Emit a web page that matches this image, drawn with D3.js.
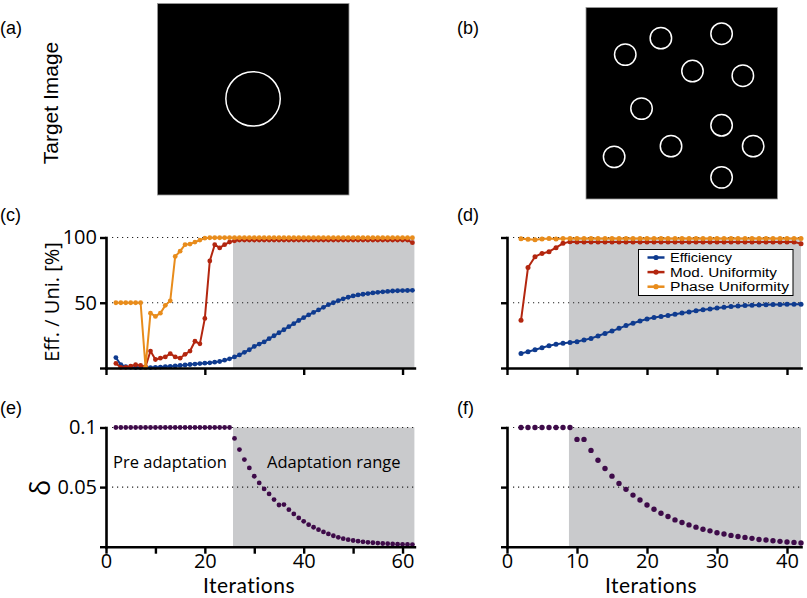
<!DOCTYPE html>
<html><head><meta charset="utf-8">
<script src="https://cdn.jsdelivr.net/npm/d3@7"></script>
<style>
html,body{margin:0;padding:0;background:#fff;}
svg{display:block;}
</style></head>
<body>
<svg id="chart" width="807" height="598"></svg>
<script>
// ---------------- DATA ----------------
const panelLetters = ["(a)", "(b)", "(c)", "(d)", "(e)", "(f)"];
const seriesNames = ["Efficiency", "Mod. Uniformity", "Phase Uniformity"];
// target images: circle centres / radius in image units (0..100)
const targetA = [{cx: 49.9, cy: 49.8, r: 14.2}];
const targetB = [
  {cx: 20.5, cy: 24.6, r: 5.6}, {cx: 39.1, cy: 16.0, r: 5.6}, {cx: 70.8, cy: 13.7, r: 5.6},
  {cx: 55.6, cy: 33.2, r: 5.6}, {cx: 81.9, cy: 35.6, r: 5.6}, {cx: 29.0, cy: 52.8, r: 5.6},
  {cx: 70.8, cy: 61.5, r: 5.6}, {cx: 44.4, cy: 72.4, r: 5.6}, {cx: 87.3, cy: 72.4, r: 5.6},
  {cx: 14.7, cy: 78.0, r: 5.6}, {cx: 70.8, cy: 88.7, r: 5.6}
];
// first iteration plotted
const firstIter = 2;
// panel (c): single circle, iterations 2..62
const effC = [8,2.5,1,0.5,0.3,0.3,0.3,0.3,0.5,0.7,1,1.3,1.6,2,2.3,2.7,3,3.4,3.7,4,4.5,5,6,7,8.5,
  10,12,14,16.5,18.3,20,22.5,24.7,27,29.3,31.7,34,36.4,38.6,40.7,42.6,44.5,46.5,48.5,50,51.6,53,54.2,
  55.2,56,56.5,57,57.5,58,58.4,58.7,59,59.2,59.3,59.4,59.5];
const modC = [3.5,0.5,0.5,1.5,2.5,2,1,13,6.5,7.5,8.5,11,8.5,7.5,10.5,13,20.5,18.5,38,82,94.5,92,94.5,96.5,97.5,
  98,98,98,98,98,98,98,98,98,98,98,98,98,98,98,98,98,98,98,98,98,98,98,98,98,98,98,98,98,98,98,98,98,98,98,96];
const phaseC = [50,50,50,50,50,50,0.5,42,39.5,42,48,51.5,85.5,89.5,94.5,95,96.5,98,99.5,
  99.8,99.8,99.8,99.8,99.8,99.8,99.8,99.8,99.8,99.8,99.8,99.8,99.8,99.8,99.8,99.8,99.8,99.8,99.8,99.8,99.8,
  99.8,99.8,99.8,99.8,99.8,99.8,99.8,99.8,99.8,99.8,99.8,99.8,99.8,99.8,99.8,99.8,99.8,99.8,99.8,99.8,99.8];
// panel (d): eleven circles, iterations 2..42
const effD = [11.2,12.5,14,15.5,17,18.2,19,19.5,20.2,21.5,22.7,24.5,26.5,28.3,30.4,32.5,34.3,36,37.5,38.7,
  39.5,40.3,41.2,42.1,43,43.8,44.6,45.3,46,46.6,47.1,47.5,47.8,48.1,48.3,48.5,48.6,48.7,48.8,48.9,48.9];
const modD = [36.5,77,85.3,87.8,89.1,92.2,95.5,96.8,96.5,96.5,96.5,96.5,96.5,96.5,96.5,96.5,96.5,96.5,96.5,96.5,
  96.5,96.5,96.5,96.5,96.5,96.5,96.5,96.5,96.5,96.5,96.5,96.5,96.5,96.5,96.5,96.5,96.5,96.5,96.5,96.5,95.3];
const phaseD = [99,98.6,98.2,98.8,99.3,98.8,99.2,99.2,99.2,99.2,99.2,99.2,99.2,99.2,99.2,99.2,99.2,99.2,99.2,99.2,
  99.2,99.2,99.2,99.2,99.2,99.2,99.2,99.2,99.2,99.2,99.2,99.2,99.2,99.2,99.2,99.2,99.2,99.2,99.2,99.2,99.2];
// panel (e): delta, iterations 2..62
const deltaE = [0.1,0.1,0.1,0.1,0.1,0.1,0.1,0.1,0.1,0.1,0.1,0.1,0.1,0.1,0.1,0.1,0.1,0.1,0.1,0.1,0.1,0.1,0.1,0.1,
  0.0908,0.0815,0.0731,0.0661,0.0591,0.0535,0.0485,0.0443,0.0395,0.0350,0.0353,0.0311,0.0275,0.0241,0.0213,
  0.0185,0.0163,0.0143,0.0124,0.0107,0.0092,0.0079,0.0067,0.0059,0.0052,0.0046,0.0041,0.0037,0.0033,0.003,
  0.0027,0.0025,0.0023,0.0021,0.002,0.0019,0.0018];
// panel (f): delta, iterations 2..42
const deltaF = [0.1,0.1,0.1,0.1,0.1,0.1,0.1,0.1,0.09,0.09,0.0808,0.0725,0.0656,0.0592,0.0531,0.0481,0.0433,
  0.0392,0.035,0.0314,0.0281,0.0253,0.0225,0.0203,0.0183,0.0164,0.0147,0.0133,0.0117,0.0106,0.0095,0.0086,
  0.0078,0.007,0.0061,0.0056,0.005,0.0045,0.0039,0.0036,0.0031];
// adaptation start (iteration) and axis extents
const adaptStart = {left: 25.7, right: 8.85};
const xMax = {left: 62.4, right: 42};
const xTicksLeftTop = [0, 20, 40, 60];
const xTicksLeftBottom = [0, 10, 20, 30, 40, 50, 60];
const xLabelsLeftBottom = [0, 20, 40, 60];
const xTicksRight = [0, 10, 20, 30, 40];
const yTicksUni = [0, 50, 100];
const yLabelsUni = [50, 100];
const yTicksDelta = [0, 0.05, 0.1];
const yLabelsDelta = [0.05, 0.1];
const texts = {
  targetImage: "Target Image", yUni: "Eff. / Uni. [%]", yDelta: "δ",
  xLabel: "Iterations", pre: "Pre adaptation", adapt: "Adaptation range"
};

// ---------------- STYLE ----------------
const COL = {eff: "#0f3b8f", mod: "#b3260f", phase: "#e88c1c", delta: "#3e0b49", gray: "#c9cacc"};
const FONT = "'Open Sans', sans-serif";
const XFONT = "Lato, 'Open Sans', sans-serif";
const LABFONT = "'Liberation Sans', Arial, sans-serif";

const svg = d3.select("#chart");

// ---------------- TARGET IMAGES ----------------
function targetImage(x0, y0, size, circles) {
  const s = d3.scaleLinear().domain([0, 100]).range([0, size]);
  const g = svg.append("g").attr("transform", `translate(${x0},${y0})`);
  g.append("rect").attr("width", size).attr("height", size).attr("fill", "#000")
    .attr("stroke", "#999").attr("stroke-width", 0.8);
  g.selectAll("circle").data(circles).join("circle")
    .attr("cx", d => s(d.cx)).attr("cy", d => s(d.cy)).attr("r", d => s(d.r))
    .attr("fill", "none").attr("stroke", "#fff").attr("stroke-width", 1.5);
}
targetImage(157.5, 3.5, 191.5, targetA);
targetImage(586, 7.5, 191.5, targetB);

// ---------------- PANEL HELPERS ----------------
function makePanel(opt) {
  const x = d3.scaleLinear().domain([0, opt.xMax]).range([opt.left, opt.right]);
  const y = d3.scaleLinear().domain(opt.yDomain).range([opt.bottom, opt.top]);
  const g = svg.append("g");
  g.append("rect").attr("x", x(opt.adapt)).attr("y", y(opt.yDomain[1]))
    .attr("width", x(opt.xMax) - x(opt.adapt)).attr("height", y(opt.yDomain[0]) - y(opt.yDomain[1]))
    .attr("fill", COL.gray);
  g.selectAll("line.ref").data(opt.yLabels).join("line").attr("class", "ref")
    .attr("x1", opt.left + 6).attr("x2", x(opt.xMax))
    .attr("y1", d => y(d)).attr("y2", d => y(d))
    .attr("stroke", "#222").attr("stroke-width", 1.2).attr("stroke-dasharray", "1.2,3.8");
  return {x, y, g};
}
function drawAxes(p, opt) {
  const ya = d3.axisLeft(p.y).tickValues(opt.yTicks).tickSize(6).tickSizeOuter(0).tickPadding(3)
    .tickFormat(d => opt.yLabelsShown && opt.yLabels.includes(d) ? opt.yFmt(d) : "");
  const xa = d3.axisBottom(p.x).tickValues(opt.xTicks).tickSize(7).tickSizeOuter(0).tickPadding(0)
    .tickFormat(d => opt.xLabels.includes(d) ? d3.format("d")(d) : "");
  const gy = p.g.append("g").attr("transform", `translate(${opt.left},0)`).call(ya);
  const gx = p.g.append("g").attr("transform", `translate(0,${opt.bottom})`).call(xa);
  [gy, gx].forEach(a => {
    a.select(".domain").attr("stroke", "#000").attr("stroke-width", 2.6).attr("stroke-linecap", "square");
    a.selectAll(".tick line").attr("stroke", "#000").attr("stroke-width", 2.4);
    a.selectAll(".tick text").attr("font-family", FONT).attr("font-size", 20).attr("fill", "#000");
  });
}
function drawSeries(p, vals, color, withLine, r) {
  const pts = vals.map((v, i) => [p.x(firstIter + i), p.y(v)]);
  if (withLine) {
    p.g.append("path").attr("d", d3.line()(pts)).attr("fill", "none")
      .attr("stroke", color).attr("stroke-width", 2).attr("stroke-linejoin", "round");
  }
  p.g.append("g").selectAll("circle").data(pts).join("circle")
    .attr("cx", d => d[0]).attr("cy", d => d[1]).attr("r", r).attr("fill", color);
}

const geomLeft = {left: 106, right: 414.4, xMax: xMax.left, adapt: adaptStart.left};
const geomRight = {left: 507, right: 801, xMax: xMax.right, adapt: adaptStart.right};

// (c)
const optC = Object.assign({}, geomLeft, {top: 237.5, bottom: 368, yDomain: [0, 100], yTicks: yTicksUni,
  yLabels: yLabelsUni, yLabelsShown: true, yFmt: d3.format("d"), xTicks: xTicksLeftTop, xLabels: []});
const pC = makePanel(optC);
drawSeries(pC, effC, COL.eff, true, 2.4);
drawSeries(pC, modC, COL.mod, true, 2.4);
drawSeries(pC, phaseC, COL.phase, true, 2.4);
drawAxes(pC, optC);

// (d)
const optD = Object.assign({}, geomRight, {top: 237.5, bottom: 368, yDomain: [0, 100], yTicks: yTicksUni,
  yLabels: yLabelsUni, yLabelsShown: false, yFmt: d3.format("d"), xTicks: xTicksRight, xLabels: []});
const pD = makePanel(optD);
drawSeries(pD, effD, COL.eff, true, 2.5);
drawSeries(pD, modD, COL.mod, true, 2.5);
drawSeries(pD, phaseD, COL.phase, true, 2.5);
drawAxes(pD, optD);

// (e)
const optE = Object.assign({}, geomLeft, {top: 427.5, bottom: 546.7, yDomain: [0, 0.1], yTicks: yTicksDelta,
  yLabels: yLabelsDelta, yLabelsShown: true, yFmt: d => String(d), xTicks: xTicksLeftBottom, xLabels: xLabelsLeftBottom});
const pE = makePanel(optE);
drawSeries(pE, deltaE, COL.delta, false, 2.4);
drawAxes(pE, optE);

// (f)
const optF = Object.assign({}, geomRight, {top: 427.5, bottom: 546.7, yDomain: [0, 0.1], yTicks: yTicksDelta,
  yLabels: yLabelsDelta, yLabelsShown: false, yFmt: d => String(d), xTicks: xTicksRight, xLabels: xTicksRight});
const pF = makePanel(optF);
drawSeries(pF, deltaF, COL.delta, false, 2.7);
drawAxes(pF, optF);

// ---------------- LEGEND ----------------
const leg = svg.append("g").attr("transform", "translate(638.5,249.5)");
leg.append("rect").attr("width", 154.5).attr("height", 46).attr("fill", "#fff")
  .attr("stroke", "#000").attr("stroke-width", 1);
const legCols = [COL.eff, COL.mod, COL.phase];
seriesNames.forEach((name, i) => {
  const yy = 8 + i * 14.6;
  leg.append("line").attr("x1", 9).attr("x2", 26).attr("y1", yy).attr("y2", yy)
    .attr("stroke", legCols[i]).attr("stroke-width", 2.5);
  leg.append("circle").attr("cx", 17.5).attr("cy", yy).attr("r", 2.6).attr("fill", legCols[i]);
  leg.append("text").attr("x", 31.5).attr("y", yy + 4.5).attr("font-family", LABFONT).attr("font-size", 12.5)
    .attr("textLength", i === 0 ? 62 : (i === 1 ? 107 : 119)).attr("lengthAdjust", "spacingAndGlyphs")
    .attr("fill", "#000").text(name);
});

// ---------------- TEXTS ----------------
const letterPos = [[0, 34], [457, 34], [0, 221], [457, 221], [0, 414], [457, 414]];
panelLetters.forEach((t, i) => {
  svg.append("text").attr("x", letterPos[i][0]).attr("y", letterPos[i][1])
    .attr("font-family", LABFONT).attr("font-size", 18).attr("fill", "#000").text(t);
});
svg.append("text").attr("transform", "translate(58,103) rotate(-90)").attr("text-anchor", "middle")
  .attr("font-family", LABFONT).attr("font-size", 21).attr("fill", "#000").text(texts.targetImage);
svg.append("text").attr("transform", "translate(59,302) rotate(-90)").attr("text-anchor", "middle")
  .attr("font-family", FONT).attr("font-size", 20).attr("fill", "#000").text(texts.yUni);
svg.append("text").attr("transform", "translate(50,488) rotate(-90)").attr("text-anchor", "middle")
  .attr("font-family", FONT).attr("font-size", 27).attr("fill", "#000").text(texts.yDelta);
[249, 651].forEach(cx => {
  svg.append("text").attr("x", cx).attr("y", 593.3).attr("text-anchor", "middle")
    .attr("font-family", XFONT).attr("font-size", 21).attr("letter-spacing", 0.5)
    .attr("fill", "#000").text(texts.xLabel);
});
svg.append("text").attr("x", 113).attr("y", 468).attr("font-family", FONT).attr("font-size", 16.5)
  .attr("fill", "#000").text(texts.pre);
svg.append("text").attr("x", 267).attr("y", 468).attr("font-family", FONT).attr("font-size", 16.5)
  .attr("fill", "#000").text(texts.adapt);
</script>
</body></html>
